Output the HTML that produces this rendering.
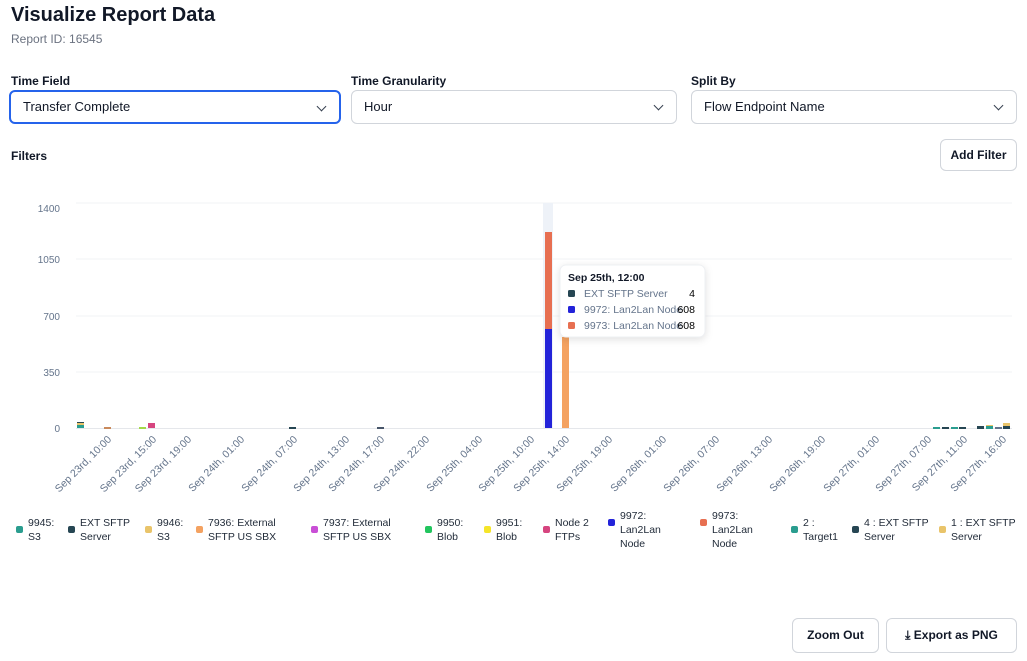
<!DOCTYPE html>
<html><head><meta charset="utf-8"><style>
body{margin:0;width:1027px;height:661px;background:#fff;font-family:"Liberation Sans",sans-serif;color:#111827;position:relative;overflow:hidden}
.a{position:absolute}
.sel{position:absolute;top:90px;height:34px;border:1px solid #d1d5db;border-radius:6px;box-sizing:border-box;font-size:13px;line-height:32px;padding-left:12px}
.sel:after{content:"";position:absolute;right:14px;top:11px;width:6px;height:6px;border-right:1.5px solid #374151;border-bottom:1.5px solid #374151;transform:rotate(45deg)}
.lbl{position:absolute;top:74px;font-size:12px;font-weight:bold}
.btn{position:absolute;border:1px solid #d1d5db;border-radius:6px;box-sizing:border-box;font-size:12px;font-weight:bold;text-align:center}
.lg{position:absolute;top:516px;font-size:10.5px;line-height:14px;color:#1f2937}
.lg i{position:absolute;left:-12px;top:10px;width:7px;height:7px;border-radius:2px}
</style></head><body>
<div class="a" style="left:11px;top:4px;font-size:20px;font-weight:bold">Visualize Report Data</div>
<div class="a" style="left:11px;top:32px;font-size:12px;color:#6b7280">Report ID: 16545</div>
<div class="lbl" style="left:11px">Time Field</div>
<div class="lbl" style="left:351px">Time Granularity</div>
<div class="lbl" style="left:691px">Split By</div>
<div class="sel" style="left:9px;width:332px;border:2px solid #2563eb;line-height:30px">Transfer Complete</div>
<div class="sel" style="left:351px;width:326px">Hour</div>
<div class="sel" style="left:691px;width:326px">Flow Endpoint Name</div>
<div class="a" style="left:11px;top:149px;font-size:12px;font-weight:bold">Filters</div>
<div class="btn" style="left:940px;top:139px;width:77px;height:32px;line-height:30px">Add Filter</div>
<svg class="a" style="left:0;top:0" width="1027" height="661">
<g stroke="#f1f3f6" stroke-width="1">
<line x1="76" x2="1012" y1="203" y2="203"/><line x1="76" x2="1012" y1="259" y2="259"/><line x1="76" x2="1012" y1="316" y2="316"/><line x1="76" x2="1012" y1="372" y2="372"/><line x1="76" x2="1012" y1="428.5" y2="428.5" stroke="#e5e7eb"/>
</g>
<g font-size="10" fill="#64748b" text-anchor="end" font-family="Liberation Sans">
<text x="60" y="212">1400</text><text x="60" y="263">1050</text><text x="60" y="320">700</text><text x="60" y="376">350</text><text x="60" y="432">0</text>
</g>
<rect x="543" y="203" width="10" height="225" fill="#eef2f8"/>
<rect x="545" y="232" width="7" height="98" fill="#e76f51"/>
<rect x="545" y="329" width="7" height="99" fill="#2323d9"/>
<rect x="562" y="337" width="7" height="91" fill="#f4a261"/>
<rect x="77" y="424" width="7" height="4" fill="#2a9d8f"/><rect x="77" y="422" width="7" height="2" fill="#264653"/><rect x="77" y="423" width="7" height="2" fill="#e9c46a"/>
<rect x="104" y="427" width="7" height="2" fill="#c9895b"/><rect x="139" y="427" width="7" height="2" fill="#a3d94a"/>
<rect x="148" y="423" width="7" height="5" fill="#d6457f"/><rect x="289" y="427" width="7" height="2" fill="#264653"/><rect x="377" y="427" width="7" height="2" fill="#475569"/>
<rect x="933" y="427" width="7" height="2" fill="#2a9d8f"/><rect x="942" y="427" width="7" height="2" fill="#264653"/><rect x="951" y="427" width="7" height="2" fill="#2a9d8f"/><rect x="959" y="427" width="7" height="2" fill="#264653"/>
<rect x="977" y="426" width="7" height="3" fill="#264653"/><rect x="986" y="426" width="7" height="3" fill="#2a9d8f"/><rect x="986" y="425" width="7" height="1" fill="#e9c46a"/><rect x="995" y="427" width="7" height="2" fill="#64748b"/><rect x="1003" y="426" width="7" height="3" fill="#264653"/><rect x="1003" y="423" width="7" height="3" fill="#e9c46a"/>
<g font-size="10.5" fill="#64748b" text-anchor="end" font-family="Liberation Sans">
<text transform="translate(112,440) rotate(-45)">Sep 23rd, 10:00</text>
<text transform="translate(157,440) rotate(-45)">Sep 23rd, 15:00</text>
<text transform="translate(192,440) rotate(-45)">Sep 23rd, 19:00</text>
<text transform="translate(245,440) rotate(-45)">Sep 24th, 01:00</text>
<text transform="translate(298,440) rotate(-45)">Sep 24th, 07:00</text>
<text transform="translate(350,440) rotate(-45)">Sep 24th, 13:00</text>
<text transform="translate(385,440) rotate(-45)">Sep 24th, 17:00</text>
<text transform="translate(430,440) rotate(-45)">Sep 24th, 22:00</text>
<text transform="translate(483,440) rotate(-45)">Sep 25th, 04:00</text>
<text transform="translate(535,440) rotate(-45)">Sep 25th, 10:00</text>
<text transform="translate(570,440) rotate(-45)">Sep 25th, 14:00</text>
<text transform="translate(613,440) rotate(-45)">Sep 25th, 19:00</text>
<text transform="translate(667,440) rotate(-45)">Sep 26th, 01:00</text>
<text transform="translate(720,440) rotate(-45)">Sep 26th, 07:00</text>
<text transform="translate(773,440) rotate(-45)">Sep 26th, 13:00</text>
<text transform="translate(826,440) rotate(-45)">Sep 26th, 19:00</text>
<text transform="translate(880,440) rotate(-45)">Sep 27th, 01:00</text>
<text transform="translate(932,440) rotate(-45)">Sep 27th, 07:00</text>
<text transform="translate(968,440) rotate(-45)">Sep 27th, 11:00</text>
<text transform="translate(1007,440) rotate(-45)">Sep 27th, 16:00</text>
</g>
<rect x="560" y="265" width="145" height="72" rx="6" fill="#fff" stroke="#eef0f3" style="filter:drop-shadow(0 2px 4px rgba(0,0,0,.12))"/>
<g font-size="10.5" font-family="Liberation Sans">
<text x="568" y="281" font-weight="bold" fill="#111827">Sep 25th, 12:00</text>
<rect x="568" y="290" width="7" height="7" rx="1.5" fill="#264653"/><text x="584" y="297" fill="#64748b">EXT SFTP Server</text><text x="695" y="297" text-anchor="end">4</text>
<rect x="568" y="306" width="7" height="7" rx="1.5" fill="#2323d9"/><text x="584" y="313" fill="#64748b">9972: Lan2Lan Node</text><text x="695" y="313" text-anchor="end">608</text>
<rect x="568" y="322" width="7" height="7" rx="1.5" fill="#e76f51"/><text x="584" y="329" fill="#64748b">9973: Lan2Lan Node</text><text x="695" y="329" text-anchor="end">608</text>
</g>
</svg>
<div class="lg" style="left:28px"><i style="background:#2a9d8f"></i>9945:<br>S3</div>
<div class="lg" style="left:80px"><i style="background:#264653"></i>EXT SFTP<br>Server</div>
<div class="lg" style="left:157px"><i style="background:#e9c46a"></i>9946:<br>S3</div>
<div class="lg" style="left:208px"><i style="background:#f4a261"></i>7936: External<br>SFTP US SBX</div>
<div class="lg" style="left:323px"><i style="background:#c94fd6"></i>7937: External<br>SFTP US SBX</div>
<div class="lg" style="left:437px"><i style="background:#22c55e"></i>9950:<br>Blob</div>
<div class="lg" style="left:496px"><i style="background:#f5e52a"></i>9951:<br>Blob</div>
<div class="lg" style="left:555px"><i style="background:#d6457f"></i>Node 2<br>FTPs</div>
<div class="lg" style="left:620px;top:509px"><i style="background:#2323d9"></i>9972:<br>Lan2Lan<br>Node</div>
<div class="lg" style="left:712px;top:509px"><i style="background:#e76f51"></i>9973:<br>Lan2Lan<br>Node</div>
<div class="lg" style="left:803px"><i style="background:#2a9d8f"></i>2 :<br>Target1</div>
<div class="lg" style="left:864px"><i style="background:#264653"></i>4 : EXT SFTP<br>Server</div>
<div class="lg" style="left:951px"><i style="background:#e9c46a"></i>1 : EXT SFTP<br>Server</div>
<div class="btn" style="left:792px;top:618px;width:87px;height:35px;line-height:33px">Zoom Out</div>
<div class="btn" style="left:886px;top:618px;width:131px;height:35px;line-height:33px">⤓ Export as PNG</div>
</body></html>
